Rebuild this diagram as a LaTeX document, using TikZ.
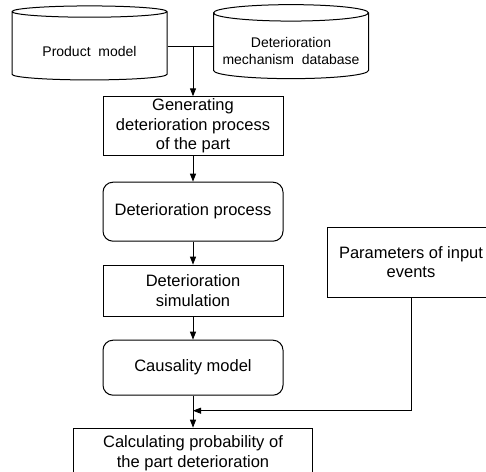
\documentclass[tikz,border=0pt]{standalone}
\usepackage{fontspec}
\setmainfont{Liberation Sans}
\usetikzlibrary{positioning,shapes.geometric,arrows.meta}
\tikzset{store node/.style={cylinder,shape border rotate=90,draw,aspect=0.12,minimum width=155pt,minimum height=74pt,inner sep=0pt,align=center,font=\fontsize{14}{17}\selectfont},
            step node/.style={rectangle,draw,minimum width=180pt,align=center,inner sep=2pt,font=\fontsize{16.5}{19.5}\selectfont},
            state node/.style={step node,rounded corners=10pt},
            flow/.style={-{Triangle[length=8pt,width=6pt]}},
            }

\begin{document}
\begin{tikzpicture}[x=1pt,y=-1pt,line width=1pt]
    \useasboundingbox (0,0) rectangle (486,471);
    \clip (0,0) rectangle (486,471);
    \node[store node,text height=21pt] (product) at (89.5,46) {Product\ \ model};
    \node[store node,text height=37pt] (mech) at (291,46) {Deterioration\\mechanism\ \ database};
    \node[step node,minimum height=58pt] (gen) at (193,126) {Generating\\deterioration process\\of the part};
    \node[state node,minimum height=59pt] (proc) [below=26pt of gen] {Deterioration process};
    \node[step node,minimum height=51pt] (sim) [below=23pt of proc] {Deterioration\\simulation};
    \node[state node,minimum height=55pt] (caus) [below=23pt of sim] {Causality model};
    \node[step node,minimum width=239pt,minimum height=50pt] (calc) [below=32pt of caus] {Calculating probability of\\the part deterioration};
    \node[step node,minimum width=168pt,minimum height=70pt] (param) at (411,262) {Parameters of input\\events};
    \coordinate[below=15pt of caus] (merge);

    \draw (product.east) -- (mech.west);
    \draw[flow] (gen.north |- product.east) -- (gen.north);
    \draw[flow] (gen) -- (proc);
    \draw[flow] (proc) -- (sim);
    \draw[flow] (sim) -- (caus);
    \draw[flow] (caus) -- (calc);
    \draw[flow] (param.south) |- (merge);
\end{tikzpicture}
\end{document}
